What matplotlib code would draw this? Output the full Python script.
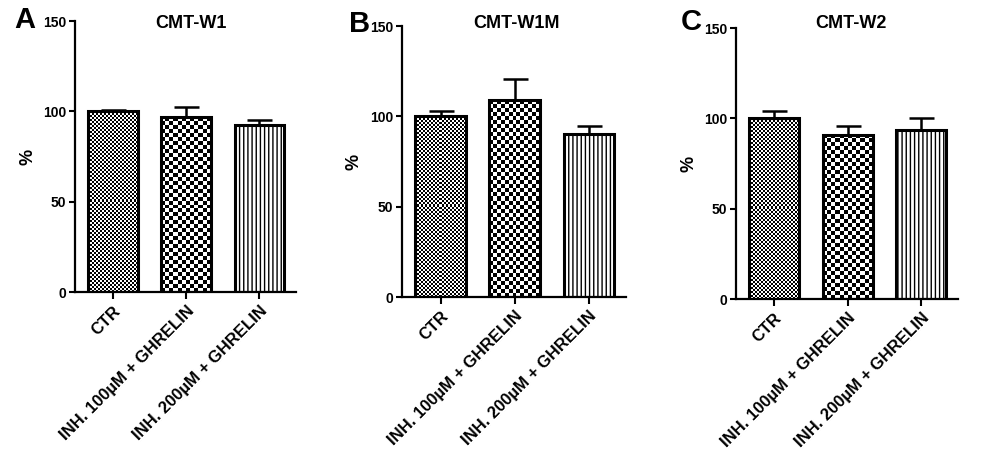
import numpy as np
import matplotlib
matplotlib.use("Agg")
import matplotlib.pyplot as plt

plt.rcParams['font.family'] = ['Liberation Sans', 'DejaVu Sans']
plt.rcParams['font.weight'] = 'bold'
plt.rcParams['hatch.linewidth'] = 1.0

grupos = ['CTR', 'INH. 100µM + GHRELIN', 'INH. 200µM + GHRELIN']
titulos = ['CMT-W1', 'CMT-W1M', 'CMT-W2']
letras = ['A', 'B', 'C']

medias_w1 = [100, 96.7, 92.2]
error_w1 = [1.0, 5.5, 3.2]
medias_w1m = [100, 109.0, 90.0]
error_w1m = [2.9, 11.5, 4.5]
medias_w2 = [100, 90.8, 93.5]
error_w2 = [4.0, 4.9, 6.7]

medias = [medias_w1, medias_w1m, medias_w2]
errores = [error_w1, error_w1m, error_w2]

# posiciones de los paneles (fraccion de la figura)
rects = [[0.0756, 0.3693, 0.2228, 0.5853],
         [0.4052, 0.3585, 0.2258, 0.5853],
         [0.7419, 0.3542, 0.2238, 0.5853]]
pos_letra = [(0.014, 0.9395), (0.352, 0.931), (0.686, 0.935)]
pos_titulo = [(0.1925, 0.9395), (0.5207, 0.9395), (0.858, 0.9395)]


def tablero(ax, barra, celda):
	# relleno de cuadritos (tablero de ajedrez) recortado a la barra
	x0, y0 = barra.get_x(), barra.get_y()
	x1, y1 = x0 + barra.get_width(), y0 + barra.get_height()
	(px0, py0), (px1, py1) = ax.transData.transform([(x0, y0), (x1, y1)])
	nx = max(1, int(round((px1 - px0) / celda)))
	ny = max(1, int(round((py1 - py0) / celda)))
	B = np.add.outer(np.arange(ny), np.arange(nx)) % 2
	im = ax.imshow(B, cmap='gray', vmin=0, vmax=1, extent=(x0, x1, y0, y1),
				   origin='lower', interpolation='nearest', aspect='auto', zorder=2)
	im.set_clip_path(barra)


fig = plt.figure(figsize=(9.92, 4.63), dpi=100)

for i in range(3):
	ax = fig.add_axes(rects[i])
	x = np.arange(len(grupos))
	ax.set_xlim(-0.52, 2.5)
	ax.set_ylim(0, 150)

	ax.errorbar(x, medias[i], yerr=[np.zeros(3), errores[i]], fmt='none',
				ecolor='black', elinewidth=1.8, capsize=9, capthick=1.8, zorder=1)
	barras = ax.bar(x, medias[i], width=0.68, facecolor='none', edgecolor='black',
					linewidth=2.2, zorder=3)
	tablero(ax, barras[0], 2)
	tablero(ax, barras[1], 4)
	barras[2].set_facecolor('white')
	barras[2].set_hatch('||||')
	barras[2].set_zorder(2.5)
	ax.set_xlim(-0.52, 2.5)
	ax.set_ylim(0, 150)

	ax.spines['top'].set_visible(False)
	ax.spines['right'].set_visible(False)
	ax.spines['left'].set_linewidth(1.6)
	ax.spines['bottom'].set_linewidth(1.6)
	ax.set_yticks([0, 50, 100, 150])
	ax.tick_params(axis='y', length=4.5, width=1.5, labelsize=10, pad=2)
	ax.tick_params(axis='x', length=5, width=1.5, labelsize=12, pad=3)
	ax.set_xticks(x)
	ax.set_xticklabels(grupos, rotation=45, ha='right', rotation_mode='anchor')
	ax.set_ylabel('%', fontsize=13, fontweight='bold')
	ax.yaxis.set_label_coords(-0.175, 0.5)

	fig.text(pos_titulo[i][0], pos_titulo[i][1], titulos[i], ha='center',
			 va='baseline', fontsize=13, fontweight='bold')
	fig.text(pos_letra[i][0], pos_letra[i][1], letras[i], ha='left',
			 va='baseline', fontsize=21, fontweight='bold')

plt.savefig('out.png', dpi=100)
